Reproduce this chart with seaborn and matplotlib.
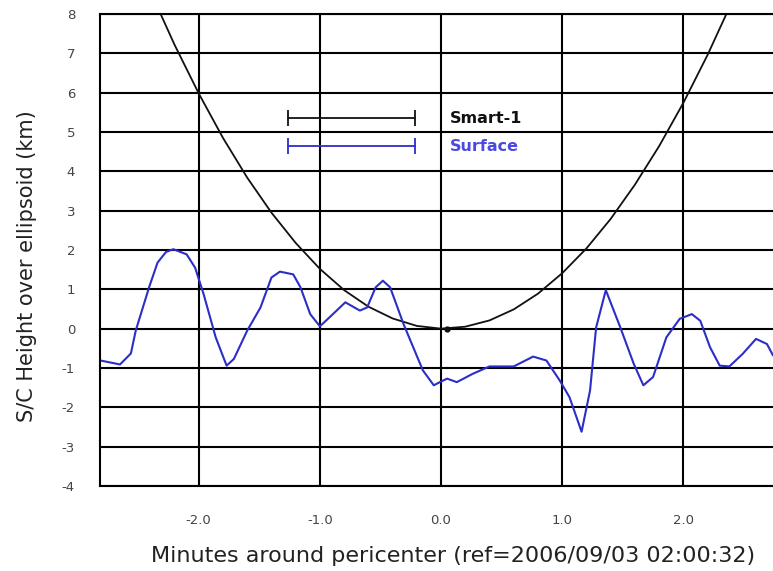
import numpy as np
import pandas as pd
import matplotlib
matplotlib.use("Agg")
import matplotlib.pyplot as plt
import seaborn as sns
from matplotlib.lines import Line2D

# --- data ---
smart_x = [-2.4, -2.2, -2.0, -1.8, -1.6, -1.4, -1.2, -1.0, -0.8, -0.6, -0.4, -0.2,
           0.0, 0.2, 0.4, 0.6, 0.8, 1.0, 1.2, 1.4, 1.6, 1.8, 2.0, 2.2, 2.4]
smart_y = [8.58, 7.22, 5.98, 4.85, 3.84, 2.95, 2.18, 1.52, 0.98, 0.56, 0.26, 0.07,
           0.00, 0.05, 0.21, 0.49, 0.89, 1.41, 2.04, 2.79, 3.66, 4.64, 5.74, 6.96, 8.30]

pericenter_x = [0.05]
pericenter_y = [0.0]

surf_x = [-2.81, -2.65, -2.56, -2.52, -2.41, -2.34, -2.27, -2.21, -2.10, -2.03, -1.96,
          -1.86, -1.77, -1.71, -1.60, -1.49, -1.40, -1.33, -1.22, -1.16, -1.08, -1.00,
          -0.92, -0.79, -0.67, -0.61, -0.54, -0.48, -0.42, -0.31, -0.23, -0.15, -0.06,
          -0.01, 0.05, 0.13, 0.26, 0.40, 0.60, 0.76, 0.87, 0.98, 1.06, 1.16, 1.23,
          1.28, 1.36, 1.48, 1.59, 1.67, 1.75, 1.86, 1.97, 2.07, 2.14, 2.22, 2.30,
          2.38, 2.49, 2.60, 2.69, 2.74]
surf_y = [-0.81, -0.91, -0.63, -0.05, 1.05, 1.68, 1.95, 2.02, 1.89, 1.55, 0.88,
          -0.22, -0.94, -0.77, -0.05, 0.54, 1.30, 1.45, 1.38, 1.05, 0.37, 0.06,
          0.29, 0.67, 0.46, 0.54, 1.05, 1.22, 1.05, 0.12, -0.47, -1.06, -1.44,
          -1.36, -1.27, -1.36, -1.15, -0.96, -0.96, -0.71, -0.81, -1.32, -1.74, -2.62, -1.57,
          0.03, 0.98, 0.03, -0.89, -1.44, -1.23, -0.22, 0.25, 0.37, 0.20, -0.47, -0.94,
          -0.96, -0.64, -0.26, -0.39, -0.68]

x_ticks = [-2.0, -1.0, 0.0, 1.0, 2.0]
x_tick_labels = ["-2.0", "-1.0", "0.0", "1.0", "2.0"]
y_ticks = [-4, -3, -2, -1, 0, 1, 2, 3, 4, 5, 6, 7, 8]

series_names = ["Smart-1", "Surface"]
series_colors = ["#111111", "#2d2dc8"]
label_colors = ["#111111", "#4a4ae0"]

smart_df = pd.DataFrame({"x": smart_x, "y": smart_y})
surf_df = pd.DataFrame({"x": surf_x, "y": surf_y})

sns.set_style("white")
plt.rcParams["font.family"] = ["DejaVu Sans"]
plt.rcParams["axes.unicode_minus"] = False

fig = plt.figure(figsize=(7.73, 5.71), dpi=100)
ax = fig.add_axes([100 / 773, 1 - 486 / 571, 1 - 100 / 773, (486 - 14) / 571])

sns.lineplot(data=smart_df, x="x", y="y", ax=ax, color=series_colors[0], lw=1.3,
             sort=False, estimator=None)
ax.plot(pericenter_x, pericenter_y, "o", color="#111111", ms=3.5, zorder=5)
sns.lineplot(data=surf_df, x="x", y="y", ax=ax, color=series_colors[1], lw=1.5,
             sort=False, estimator=None)

ax.set_xlim(-2.815, 2.74)
ax.set_ylim(-4, 8)
ax.set_xticks(x_ticks)
ax.set_xticklabels(x_tick_labels)
ax.set_yticks(y_ticks)
ax.grid(True, color="black", lw=1.5)
ax.set_axisbelow(True)
for side in ["left", "bottom", "top"]:
    ax.spines[side].set_visible(True)
    ax.spines[side].set_color("black")
    ax.spines[side].set_linewidth(1.5)
ax.spines["right"].set_visible(False)
ax.tick_params(axis="both", length=0, labelsize=9.5, labelcolor="#444444")
ax.tick_params(axis="y", pad=18)
ax.tick_params(axis="x", pad=20)

ax.set_xlabel("Minutes around pericenter (ref=2006/09/03 02:00:32)", fontsize=16,
              color="#222222", va="top")
ax.set_ylabel("S/C Height over ellipsoid (km)", fontsize=15, color="#222222")
ax.xaxis.set_label_coords(0.525, -0.127)
ax.yaxis.set_label_coords(-0.093, 0.465)

handles = [Line2D([0], [0], color=c, lw=1.3, marker="|", ms=12, mew=1.3)
           for c in series_colors]
leg = ax.legend(handles, series_names, loc="upper left", bbox_to_anchor=(0.262, 0.807),
                borderaxespad=0, frameon=False, numpoints=2, handlelength=8.6,
                handletextpad=1.85, labelspacing=0.8,
                prop={"weight": "bold", "size": 11.5})
for t, c in zip(leg.get_texts(), label_colors):
    t.set_color(c)

fig.savefig("out.png", dpi=100)
